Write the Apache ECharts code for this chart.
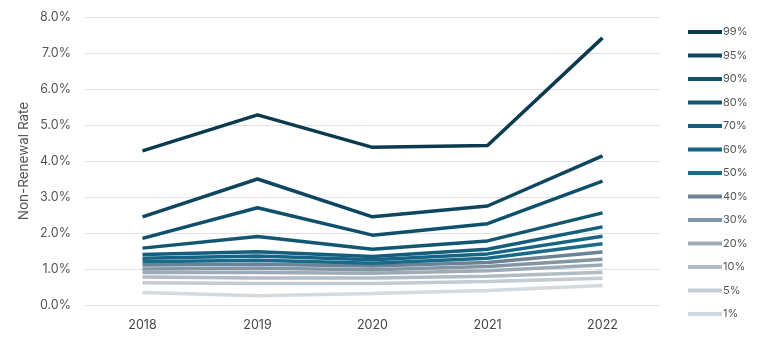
<!DOCTYPE html>
<html>
<head>
<meta charset="utf-8">
<script src="https://cdn.jsdelivr.net/npm/echarts@6/dist/echarts.min.js"></script>
<style>
  html, body { margin: 0; padding: 0; background: #fff; }
  #chart { width: 760px; height: 346px; }
</style>
</head>
<body>
<div id="chart"></div>
<script>
// years on the x axis
const years = ['2018', '2019', '2020', '2021', '2022'];

// percentile names, top to bottom as in the legend
const percentiles = ['99%', '95%', '90%', '80%', '70%', '60%', '50%', '40%', '30%', '20%', '10%', '5%', '1%'];

// non-renewal rate (%) per percentile
const p99 = [4.28, 5.28, 4.38, 4.43, 7.42];
const p95 = [2.45, 3.50, 2.45, 2.75, 4.14];
const p90 = [1.85, 2.70, 1.94, 2.26, 3.44];
const p80 = [1.58, 1.90, 1.55, 1.78, 2.56];
const p70 = [1.40, 1.48, 1.35, 1.55, 2.17];
const p60 = [1.30, 1.36, 1.26, 1.42, 1.91];
const p50 = [1.20, 1.24, 1.16, 1.30, 1.70];
const p40 = [1.11, 1.13, 1.08, 1.18, 1.47];
const p30 = [1.00, 1.02, 0.98, 1.07, 1.27];
const p20 = [0.90, 0.90, 0.88, 0.95, 1.11];
const p10 = [0.78, 0.75, 0.75, 0.80, 0.91];
const p5 = [0.62, 0.60, 0.60, 0.65, 0.74];
const p1 = [0.35, 0.26, 0.32, 0.40, 0.54];

const values = [p99, p95, p90, p80, p70, p60, p50, p40, p30, p20, p10, p5, p1];

const colors = ['#0b3a4f', '#0e4660', '#10506c', '#125672', '#145e7b', '#166585', '#196b8a',
                '#6b8394', '#8496a4', '#9dabb7', '#b2bcc6', '#c4cbd3', '#d4d9de'];

const font = 'Inter, "Liberation Sans", sans-serif';

var chart = echarts.init(document.getElementById('chart'));

var series = percentiles.map(function (name, i) {
    return {
        name: name,
        type: 'line',
        data: values[i],
        symbol: 'none',
        z: 20 - i,
        itemStyle: { color: colors[i] },
        lineStyle: { color: colors[i], width: 3.5 }
    };
});

chart.setOption({
    animation: false,
    textStyle: { fontFamily: font },
    grid: { left: 85, right: 100, top: 17, bottom: 41 },
    legend: {
        orient: 'vertical',
        left: 683,
        top: 20,
        itemWidth: 34,
        itemHeight: 14,
        itemGap: 9.5,
        icon: 'path://M0,5 L34,5 L34,9 L0,9 Z',
        data: percentiles,
        textStyle: { color: '#555', fontSize: 11, fontFamily: font, padding: [0, 0, 0, -4], lineHeight: 14, height: 14 }
    },
    xAxis: {
        type: 'category',
        data: years,
        axisLine: { show: false },
        axisTick: { show: false },
        axisLabel: { color: '#444', fontSize: 12.5, margin: 14 }
    },
    yAxis: {
        type: 'value',
        min: 0,
        max: 8,
        interval: 1,
        name: 'Non-Renewal Rate',
        nameLocation: 'middle',
        nameGap: 54,
        nameMoveOverlap: false,
        nameTextStyle: { color: '#555', fontSize: 13.5 },
        axisLabel: {
            color: '#555',
            fontSize: 12.5,
            margin: 14,
            formatter: function (v) { return v.toFixed(1) + '%'; }
        },
        splitLine: { lineStyle: { color: '#e2e2e2', width: 1 } }
    },
    series: series
});
</script>
</body>
</html>
